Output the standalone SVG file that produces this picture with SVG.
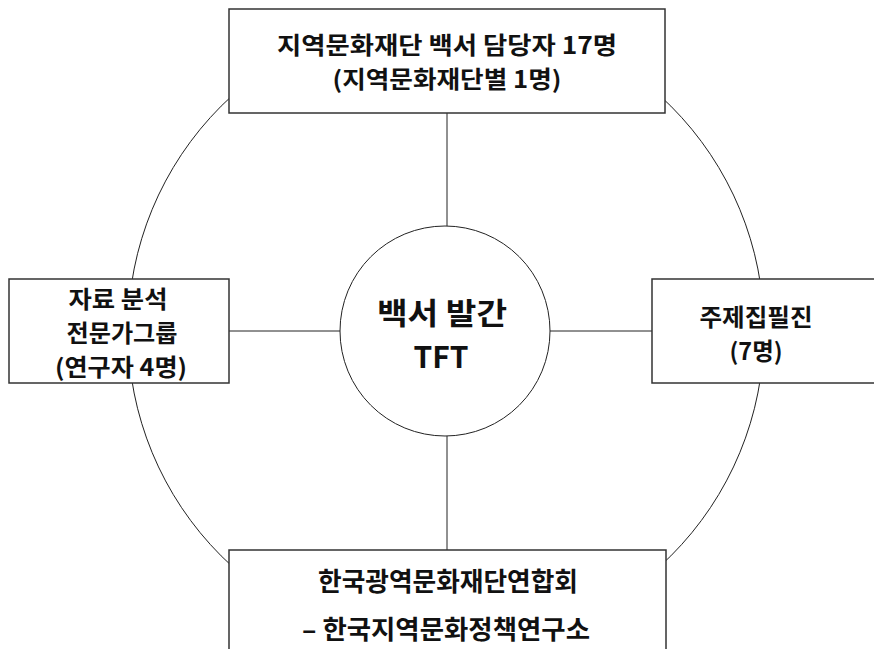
<svg xmlns="http://www.w3.org/2000/svg" width="874" height="649" viewBox="0 0 874 649">
<style>
.box{fill:#fff;stroke:#333;stroke-width:1.5}
.ln{fill:none;stroke:#222;stroke-width:1}
.t{font-family:"Noto Sans CJK KR","Noto Sans",sans-serif;font-weight:bold;fill:#111;text-anchor:middle}
.m{font-size:23.5px}
.b{font-size:26px}
.c{font-size:30px}
</style>
<rect width="874" height="649" fill="#fff"/>
<g id="connectors">
<circle class="ln" cx="446" cy="331" r="318"/>
<line class="ln" x1="447" y1="113" x2="447" y2="226"/>
<line class="ln" x1="447" y1="436" x2="447" y2="550"/>
<line class="ln" x1="229" y1="331" x2="340" y2="331"/>
<line class="ln" x1="550" y1="331" x2="652" y2="331"/>
</g>
<g id="center">
<circle cx="445" cy="331" r="105" fill="#fff" stroke="#222" stroke-width="1"/>
<text class="t c" x="442" y="324" textLength="130" lengthAdjust="spacingAndGlyphs">백서 발간</text>
<text class="t c" x="441" y="368" textLength="55" lengthAdjust="spacingAndGlyphs">TFT</text>
</g>
<g id="top">
<rect class="box" x="229" y="9" width="436" height="104"/>
<text class="t m" x="447" y="54" textLength="340" lengthAdjust="spacingAndGlyphs">지역문화재단 백서 담당자 17명</text>
<text class="t m" x="447" y="88" textLength="229" lengthAdjust="spacingAndGlyphs">(지역문화재단별 1명)</text>
</g>
<g id="left">
<rect class="box" x="9" y="279" width="220" height="104"/>
<text class="t m" x="118" y="308" textLength="99" lengthAdjust="spacingAndGlyphs">자료 분석</text>
<text class="t m" x="122" y="342" textLength="111" lengthAdjust="spacingAndGlyphs">전문가그룹</text>
<text class="t m" x="121" y="376" textLength="132" lengthAdjust="spacingAndGlyphs">(연구자 4명)</text>
</g>
<g id="right">
<rect class="box" x="652" y="279" width="240" height="104"/>
<text class="t m" x="756" y="326" textLength="113" lengthAdjust="spacingAndGlyphs">주제집필진</text>
<text class="t m" x="756" y="360" textLength="53" lengthAdjust="spacingAndGlyphs">(7명)</text>
</g>
<g id="bottom">
<rect class="box" x="229" y="550" width="437" height="120"/>
<text class="t b" x="448" y="591" textLength="260" lengthAdjust="spacingAndGlyphs">한국광역문화재단연합회</text>
<text class="t b" x="446" y="639" textLength="288" lengthAdjust="spacingAndGlyphs">– 한국지역문화정책연구소</text>
</g>
</svg>
